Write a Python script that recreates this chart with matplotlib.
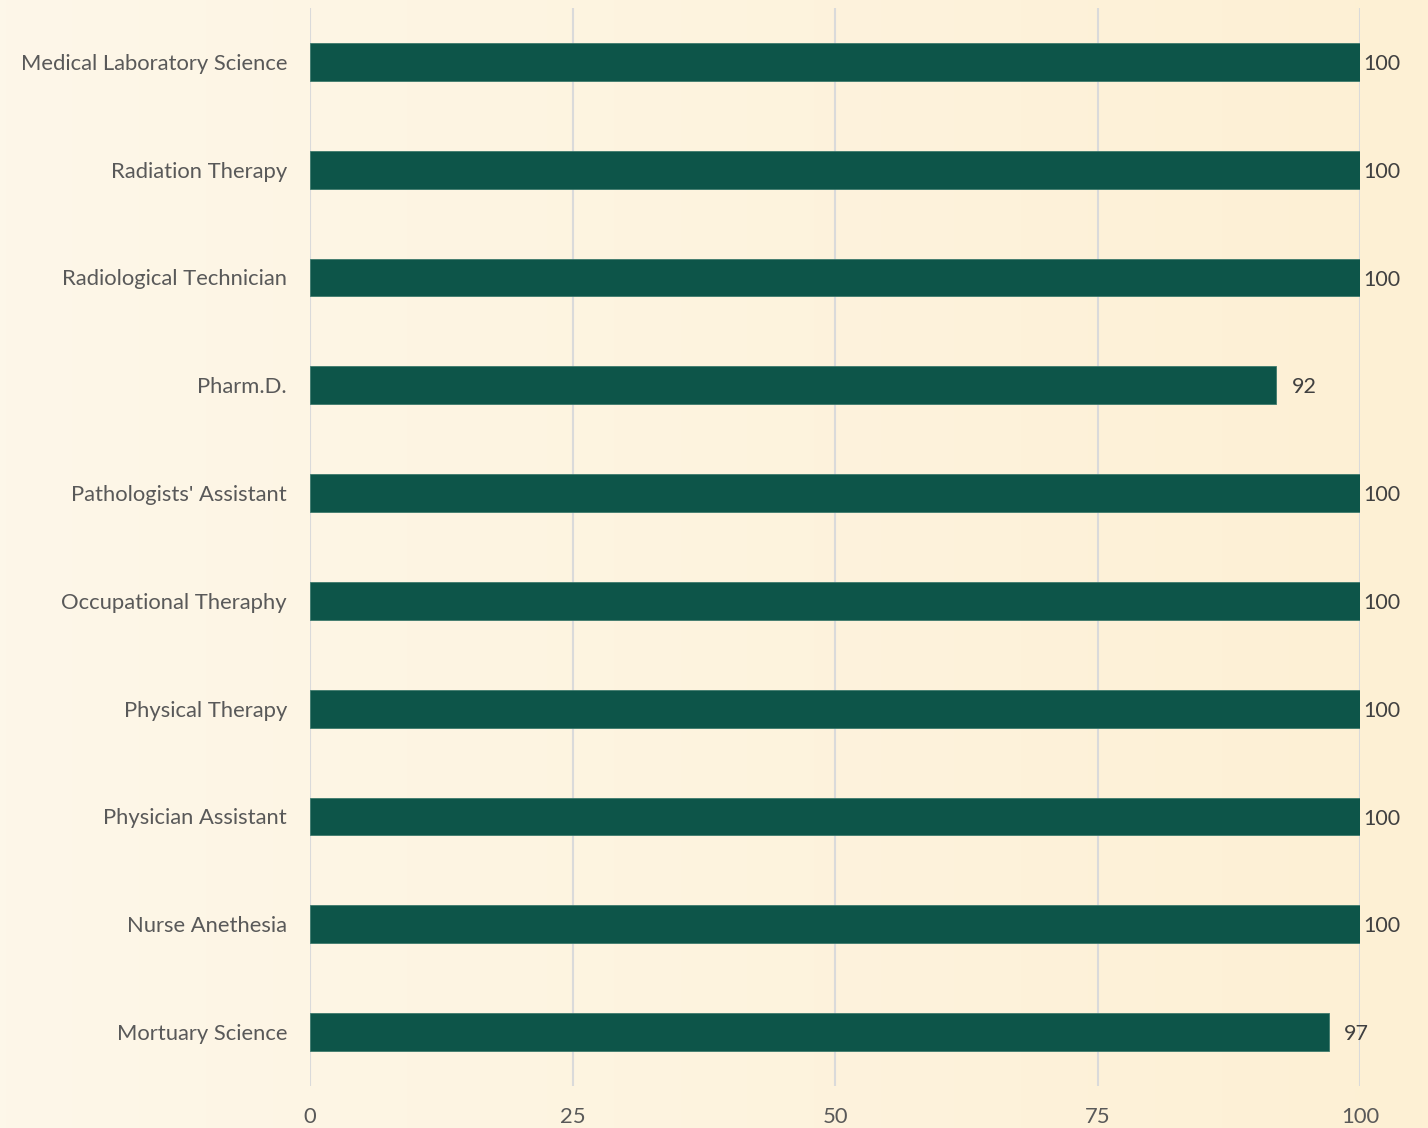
import numpy as np
import matplotlib.pyplot as plt
from matplotlib.colors import LinearSegmentedColormap

programs = ["Medical Laboratory Science", "Radiation Therapy", "Radiological Technician",
            "Pharm.D.", "Pathologists' Assistant", "Occupational Theraphy",
            "Physical Therapy", "Physician Assistant", "Nurse Anethesia", "Mortuary Science"]
rates = [100, 100, 100, 92, 100, 100, 100, 100, 100, 97]
ticks = [0, 25, 50, 75, 100]

plt.rcParams['font.family'] = ['Lato', 'DejaVu Sans']

fig = plt.figure(figsize=(14.28, 11.28), dpi=100)

# background gradient, left to right
bg = fig.add_axes([0, 0, 1, 1], zorder=-1)
cmap = LinearSegmentedColormap.from_list('bg', ['#FDF7E9', '#FEF0D4'])
bg.imshow(np.linspace(0, 1, 256).reshape(1, -1), aspect='auto', cmap=cmap, extent=[0, 1, 0, 1])
bg.axis('off')

ax = fig.add_axes([310 / 1428, 1 - 1086 / 1128, 1050 / 1428, 1078 / 1128])
ax.patch.set_alpha(0)

y = np.arange(len(programs))
ax.barh(y, rates, height=0.35, color='#0D5549', edgecolor='#3E7A6C', linewidth=0.6, zorder=3)

for yi, v in zip(y, rates):
    ax.text(min(v + 1.5, 100.35), yi + 0.02, str(v), va='center', ha='left',
            fontsize=15.5, color='#404040', zorder=4)

ax.set_ylim(len(programs) - 0.5, -0.5)
ax.set_xlim(0, 100)
ax.set_yticks(y)
ax.set_yticklabels(programs, fontsize=15.8, color='#595959')
ax.set_xticks(ticks)
ax.set_xticklabels([str(t) for t in ticks], fontsize=15.8, color='#595959')
ax.tick_params(axis='both', length=0)
ax.tick_params(axis='y', pad=16.5)
ax.tick_params(axis='x', pad=15)
ax.grid(axis='x', color='#DADADA', linewidth=1.5, zorder=0)
for s in ax.spines.values():
    s.set_visible(False)

fig.savefig('out.png', dpi=100)
